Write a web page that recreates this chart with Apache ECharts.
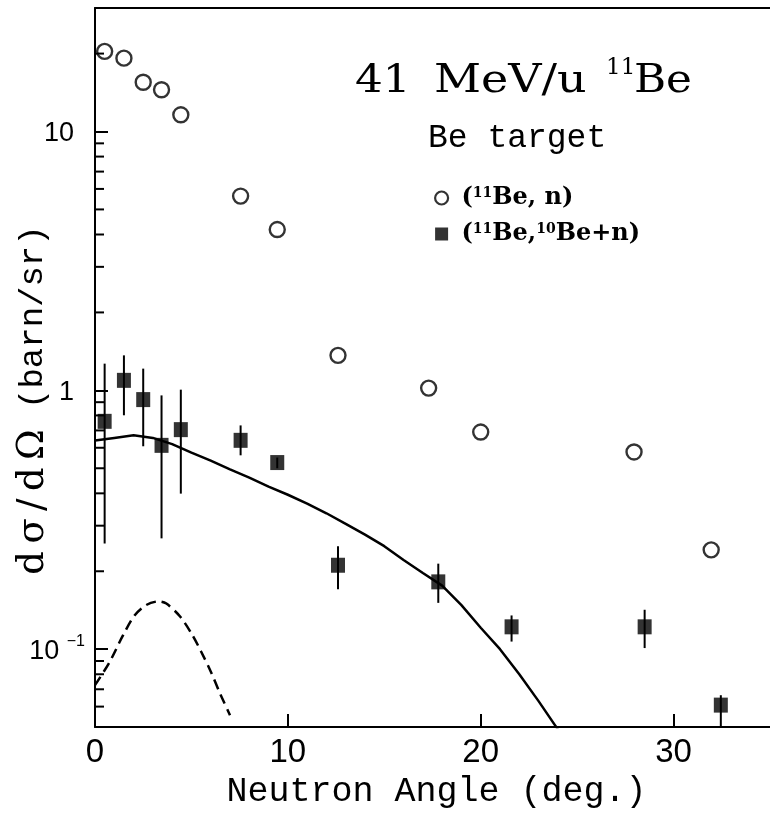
<!DOCTYPE html>
<html>
<head>
<meta charset="utf-8">
<script src="https://cdn.jsdelivr.net/npm/echarts@6/dist/echarts.min.js"></script>
<style>html,body{margin:0;padding:0;background:#fff}#c{width:770px;height:814px}</style>
</head>
<body>
<div id="c"></div>
<script>
// (11Be, n) open circles
const inclAngle = [0.5, 1.5, 2.5, 3.45, 4.45, 7.55, 9.45, 12.6, 17.3, 20.0, 27.95, 31.95];
const inclValue = [20.4, 19.2, 15.5, 14.5, 11.6, 5.63, 4.18, 1.365, 1.02, 0.69, 0.578, 0.242];

// (11Be, 10Be+n) filled squares with error bars
const coinAngle = [0.5, 1.5, 2.5, 3.45, 4.45, 7.55, 9.45, 12.6, 17.8, 21.6, 28.5, 32.45];
const coinValue = [0.759, 1.093, 0.921, 0.613, 0.705, 0.641, 0.526, 0.211, 0.182, 0.122, 0.122, 0.0608];
const coinLow   = [0.256, 0.801, 0.608, 0.268, 0.399, 0.561, 0.50, 0.1705, 0.151, 0.107, 0.101, 0.045];
const coinHigh  = [1.268, 1.365, 1.213, 0.956, 1.006, 0.732, 0.55, 0.25, 0.214, 0.135, 0.142, 0.0664];

// solid theory curve
const solidAngle = [0, 1, 2, 3, 4, 5, 6, 7, 8, 9, 10, 11, 12, 13, 14, 15, 16, 17, 18, 19, 20, 21, 22, 23, 24];
const solidValue = [0.64, 0.655, 0.67, 0.655, 0.62, 0.575, 0.535, 0.495, 0.46, 0.425, 0.395, 0.365, 0.335, 0.305, 0.277, 0.25, 0.221, 0.197, 0.176, 0.148, 0.121, 0.1, 0.08, 0.063, 0.049];

// dashed curve
const dashAngle = [0, 0.75, 1.45, 2.05, 2.65, 3.3, 3.7, 4.4, 5.0, 5.5, 6.0, 6.5, 7.0];
const dashValue = [0.0726, 0.089, 0.113, 0.135, 0.148, 0.153, 0.150, 0.134, 0.115, 0.098, 0.082, 0.067, 0.0556];

// minor ticks of the log axis
const yMinorTicks = [0.06, 0.07, 0.08, 0.09, 0.2, 0.3, 0.4, 0.5, 0.6, 0.7, 0.8, 0.9, 2, 3, 4, 5, 6, 7, 8, 9, 20];

const xTitle = 'Neutron Angle (deg.)';

const zip = (a, b) => a.map((v, i) => [v, b[i]]);

const chart = echarts.init(document.getElementById('c'), null, {renderer: 'canvas'});
const monoFont = 'Liberation Mono';
const serifFont = 'DejaVu Serif';

chart.setOption({
  animation: false,
  backgroundColor: '#fff',
  grid: {left: 95, right: -9, top: 8, bottom: 86},
  xAxis: [{
    type: 'value', min: 0, max: 35, interval: 10,
    axisLine: {show: true, lineStyle: {color: '#000', width: 2}},
    axisTick: {show: true, inside: true, length: 13, lineStyle: {color: '#000', width: 2}},
    splitLine: {show: false},
    axisLabel: {color: '#000', fontFamily: 'Liberation Sans', fontSize: 33, margin: 9, showMaxLabel: false},
    name: xTitle, nameLocation: 'middle', nameGap: 41,
    nameTextStyle: {color: '#000', fontFamily: monoFont, fontSize: 35, verticalAlign: 'top', padding: [0, 0, 0, 8]}
  }, {
    type: 'value', min: 0, max: 35, position: 'top',
    axisLine: {show: true, onZero: false, lineStyle: {color: '#000', width: 2}},
    axisTick: {show: false}, axisLabel: {show: false}, splitLine: {show: false}
  }],
  yAxis: {
    type: 'log', logBase: 10, min: 0.05, max: 30,
    axisLine: {show: true, lineStyle: {color: '#000', width: 2}},
    axisTick: {show: true, inside: true, length: 13, lineStyle: {color: '#000', width: 2}},
    splitLine: {show: false},
    minorTick: {show: false},
    axisLabel: {
      color: '#000', margin: 10,
      formatter: function (v) {
        const k = Math.log10(v);
        if (Math.abs(k - 1) < 1e-6) return '{a|10}';
        if (Math.abs(k) < 1e-6) return '{a|1}';
        if (Math.abs(k + 1) < 1e-6) return '{b|10 }{s|−1}';
        return '';
      },
      rich: {
        a: {fontFamily: 'Liberation Sans', fontSize: 27, color: '#000', padding: [4, 11, 0, 0]},
        b: {fontFamily: 'Liberation Sans', fontSize: 27, color: '#000', padding: [4, 0, 0, 0]},
        s: {fontFamily: 'Liberation Sans', fontSize: 16, color: '#000', verticalAlign: 'top', padding: [0, 0, 10, 0]}
      }
    }
  },
  legend: {
    orient: 'vertical', left: 429, top: 181,
    itemWidth: 13, itemHeight: 13, itemGap: 12,
    data: [
      {name: 'incl', icon: 'circle', itemStyle: {color: '#fff', borderColor: '#000', borderWidth: 2.2}},
      {name: 'coin', icon: 'rect', itemStyle: {color: '#000'}}
    ],
    formatter: function (name) {
      return name === 'incl' ? ' ({s|11}Be, n)' : ' ({s|11}Be,{s|10}Be+n)';
    },
    textStyle: {
      color: '#000', fontFamily: serifFont, fontSize: 24, fontWeight: 'bold',
      rich: {s: {fontFamily: serifFont, fontSize: 14, fontWeight: 'bold', color: '#000', verticalAlign: 'top', padding: [0, 0, 9, 0]}}
    }
  },
  graphic: [
    {type: 'text', left: 355, top: 62, scaleX: 1.12, style: {
      text: '41', fill: '#000', font: '39px "DejaVu Serif"'
    }},
    {type: 'text', left: 434, top: 62, scaleX: 1.18, style: {
      text: 'MeV/u', fill: '#000', font: '39px "DejaVu Serif"'
    }},
    {type: 'text', left: 606, top: 57, style: {
      text: '11', fill: '#000', font: '23px "DejaVu Serif"'
    }},
    {type: 'text', left: 634, top: 62, scaleX: 1.12, style: {
      text: 'Be', fill: '#000', font: '39px "DejaVu Serif"'
    }},
    {type: 'text', left: 428, top: 122, style: {
      text: 'Be target', fill: '#000', font: '33px "Liberation Mono"'
    }},
    {type: 'text', x: 33, y: 400, rotation: Math.PI / 2, style: {
      text: '{g|d\u2009σ\u2009/\u2009d\u2009Ω} (barn/sr)', fill: '#000',
      font: '34px "Liberation Mono"', align: 'center', verticalAlign: 'middle',
      rich: {g: {fontFamily: serifFont, fontSize: 37, fill: '#000'}}
    }}
  ],
  series: [
    {
      type: 'custom', name: 'ticks', silent: true, clip: false,
      data: yMinorTicks.map(v => [0, v]),
      encode: {x: 0, y: 1},
      renderItem: function (params, api) {
        const p = api.coord([0, api.value(1)]);
        return {type: 'line', shape: {x1: p[0], y1: p[1], x2: p[0] + 9, y2: p[1]}, style: {stroke: '#000', lineWidth: 2}};
      }
    },
    {
      type: 'line', name: 'solid', data: zip(solidAngle, solidValue),
      showSymbol: false, symbol: 'none', clip: true,
      lineStyle: {color: '#000', width: 2.5}
    },
    {
      type: 'line', name: 'dashed', data: zip(dashAngle, dashValue),
      showSymbol: false, symbol: 'none', smooth: 0.3, clip: true,
      lineStyle: {color: '#000', width: 2.5, type: [10, 6]}
    },
    {
      type: 'custom', name: 'err', clip: true,
      data: coinAngle.map((x, i) => [x, coinLow[i], coinHigh[i]]),
      encode: {x: 0, y: [1, 2]},
      renderItem: function (params, api) {
        const a = api.coord([api.value(0), api.value(1)]);
        const b = api.coord([api.value(0), api.value(2)]);
        return {type: 'line', shape: {x1: a[0], y1: a[1], x2: b[0], y2: b[1]}, style: {stroke: '#000', lineWidth: 2}};
      }
    },
    {
      type: 'scatter', name: 'incl', data: zip(inclAngle, inclValue),
      symbol: 'circle', symbolSize: 15,
      itemStyle: {color: 'rgba(255,255,255,0)', borderColor: '#000', borderWidth: 2.4}
    },
    {
      type: 'scatter', name: 'coin', data: zip(coinAngle, coinValue),
      symbol: 'rect', symbolSize: [14, 15],
      itemStyle: {color: '#000'}
    }
  ]
});
</script>
</body>
</html>
